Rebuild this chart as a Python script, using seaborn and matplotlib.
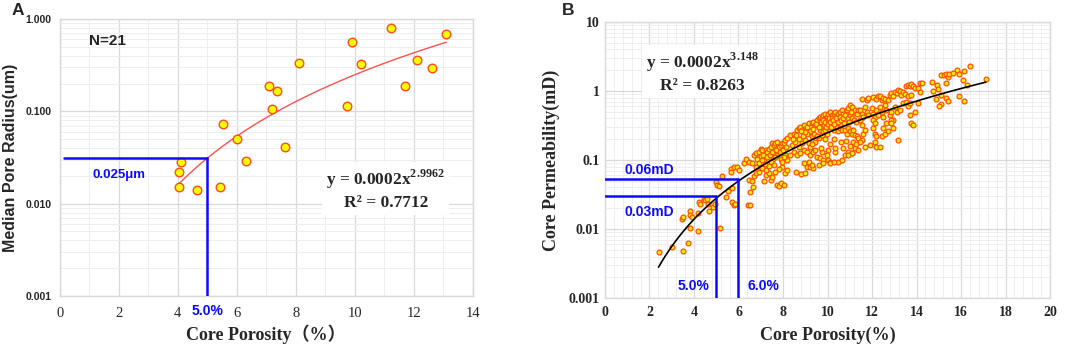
import numpy as np
import pandas as pd
import matplotlib
matplotlib.use("Agg")
import matplotlib.pyplot as plt
import matplotlib.ticker as mticker
import seaborn as sns

# ---------------- panel A: median pore radius vs core porosity (N=21)
a_porosity = [4.05, 4.10, 4.05, 4.67, 5.43, 5.52, 6.00, 6.32, 7.11, 7.36, 7.21,
              7.63, 8.10, 9.73, 9.92, 10.20, 11.23, 11.69, 12.10, 12.60, 13.10]
a_radius = [0.0150, 0.0280, 0.0220, 0.0140, 0.0150, 0.073, 0.050, 0.029, 0.187, 0.168, 0.107,
            0.041, 0.336, 0.113, 0.563, 0.327, 0.798, 0.186, 0.356, 0.294, 0.682]
a_cut_porosity = 5.0
a_cut_radius = 0.031

# ---------------- panel B: core permeability vs core porosity, (porosity %, mD)
b_low = [(2.41, 0.0047), (3.03, 0.0055), (3.52, 0.0048), (3.45, 0.014), (3.51, 0.0149),
         (3.74, 0.0063), (3.81, 0.018), (3.84, 0.016), (3.81, 0.0104), (3.90, 0.015),
         (4.18, 0.0094), (4.19, 0.017), (4.22, 0.025), (4.27, 0.023), (4.43, 0.027),
         (4.49, 0.026), (4.60, 0.027), (4.64, 0.023), (4.67, 0.018), (4.84, 0.021),
         (4.96, 0.023), (5.01, 0.048), (5.05, 0.044), (5.11, 0.042), (5.19, 0.0103),
         (5.28, 0.059), (5.45, 0.029), (5.52, 0.036), (5.70, 0.039), (5.72, 0.025),
         (5.81, 0.022), (5.85, 0.023), (6.43, 0.022), (6.54, 0.022), (6.54, 0.034),
         (6.66, 0.040)]
b_6_to_8 = [(5.65, 0.073), (5.65, 0.066), (5.80, 0.080), (5.95, 0.080), (6.03, 0.071),
            (6.25, 0.091), (6.32, 0.102), (6.47, 0.094), (6.62, 0.091), (6.70, 0.118),
            (6.77, 0.125), (6.92, 0.132), (6.99, 0.143), (7.07, 0.140), (7.22, 0.140),
            (7.29, 0.132), (7.37, 0.143), (7.44, 0.156), (7.52, 0.174), (7.59, 0.165),
            (7.66, 0.174), (7.74, 0.185), (7.81, 0.156), (7.89, 0.165), (7.96, 0.179),
            (8.04, 0.174), (8.11, 0.195), (8.18, 0.206),
            (6.47, 0.051), (6.62, 0.049), (6.70, 0.059), (6.77, 0.064), (6.92, 0.068),
            (6.99, 0.080), (7.07, 0.076), (7.14, 0.049), (7.22, 0.061), (7.37, 0.064),
            (7.44, 0.051), (7.52, 0.057), (7.66, 0.068), (7.74, 0.044), (7.81, 0.042),
            (7.89, 0.046), (7.96, 0.080), (8.04, 0.044), (8.11, 0.064), (8.18, 0.071),
            (6.85, 0.105), (7.00, 0.115), (7.10, 0.120), (7.15, 0.100), (7.30, 0.110),
            (7.40, 0.120), (7.50, 0.130), (7.55, 0.105), (7.70, 0.140), (7.75, 0.120),
            (7.85, 0.130), (7.90, 0.105), (8.00, 0.140), (8.10, 0.120), (8.15, 0.155),
            (7.20, 0.088), (7.45, 0.095), (7.60, 0.085), (7.95, 0.095), (8.20, 0.100),
            (6.90, 0.090), (7.05, 0.100), (7.35, 0.082), (7.80, 0.075), (8.05, 0.110),
            (7.25, 0.072), (6.80, 0.078), (7.65, 0.112)]
b_8_to_11 = [(8.33, 0.23), (8.48, 0.24), (8.63, 0.27), (8.71, 0.29), (8.56, 0.21),
             (8.78, 0.30), (8.85, 0.27), (8.93, 0.32), (9.08, 0.30), (9.15, 0.34),
             (9.30, 0.34), (9.37, 0.36), (9.45, 0.32), (9.52, 0.38), (9.60, 0.40),
             (9.67, 0.42), (9.75, 0.40), (9.82, 0.45), (9.90, 0.47), (9.97, 0.42),
             (10.04, 0.47), (10.12, 0.50), (10.19, 0.45), (10.27, 0.47), (10.34, 0.50),
             (10.42, 0.45), (10.49, 0.47), (10.57, 0.50), (10.64, 0.53), (10.71, 0.47),
             (10.86, 0.53), (10.94, 0.56), (11.01, 0.63), (11.09, 0.59), (11.16, 0.50),
             (11.24, 0.53), (11.31, 0.47), (11.38, 0.53),
             (8.41, 0.165), (8.56, 0.185), (8.71, 0.156), (8.85, 0.175), (9.00, 0.195),
             (9.15, 0.175), (9.23, 0.156), (9.30, 0.22), (9.45, 0.185), (9.60, 0.21),
             (9.67, 0.27), (9.75, 0.23), (9.82, 0.26), (9.90, 0.27), (9.97, 0.24),
             (10.04, 0.30), (10.19, 0.34), (10.27, 0.27), (10.42, 0.30), (10.49, 0.26),
             (10.57, 0.29), (10.64, 0.27), (10.79, 0.27), (10.86, 0.24), (10.94, 0.29),
             (11.01, 0.26), (11.09, 0.24), (11.16, 0.27), (11.24, 0.23), (11.31, 0.22),
             (11.38, 0.21),
             (8.48, 0.132), (8.63, 0.118), (8.78, 0.125), (8.93, 0.140), (9.08, 0.132),
             (9.23, 0.118), (9.37, 0.132), (9.52, 0.112), (9.67, 0.106), (9.75, 0.132),
             (9.82, 0.100), (9.97, 0.118), (10.04, 0.100), (10.12, 0.095), (10.34, 0.132),
             (10.49, 0.095), (10.64, 0.100), (10.79, 0.118), (10.94, 0.132), (11.09, 0.125),
             (11.24, 0.148), (11.38, 0.140), (8.93, 0.090), (9.08, 0.078), (9.23, 0.078),
             (9.37, 0.076), (9.15, 0.095), (8.33, 0.118),
             (8.80, 0.062), (9.00, 0.065), (8.60, 0.068), (9.30, 0.085), (9.60, 0.085),
             (9.80, 0.090), (10.10, 0.090), (10.30, 0.092), (10.90, 0.120), (11.10, 0.125),
             (9.50, 0.33), (9.60, 0.30), (9.70, 0.35), (9.80, 0.38), (9.85, 0.32),
             (9.90, 0.36), (9.95, 0.30), (10.00, 0.38), (10.00, 0.33), (10.05, 0.41),
             (10.10, 0.36), (10.15, 0.30), (10.20, 0.40), (10.25, 0.38), (10.30, 0.33),
             (10.40, 0.40), (10.45, 0.36), (10.55, 0.42), (10.60, 0.38), (10.70, 0.40),
             (10.75, 0.34), (10.80, 0.45), (10.90, 0.40), (10.95, 0.36), (11.00, 0.45),
             (11.05, 0.50), (11.10, 0.40), (11.20, 0.38), (11.30, 0.36), (9.20, 0.26),
             (9.35, 0.28), (9.40, 0.24), (9.55, 0.22), (9.10, 0.24), (8.90, 0.22),
             (8.70, 0.20), (9.00, 0.25), (8.45, 0.20), (8.60, 0.23), (8.80, 0.26),
             (9.90, 0.20), (10.10, 0.17), (10.30, 0.20), (10.60, 0.18), (10.35, 0.15),
             (10.85, 0.19), (11.15, 0.18), (9.70, 0.15), (9.30, 0.17), (9.45, 0.14),
             (10.00, 0.14), (10.70, 0.15), (11.00, 0.16), (11.30, 0.17)]
b_11_to_14 = [(11.53, 0.76), (11.76, 0.74), (11.83, 0.78), (12.05, 0.81), (12.20, 0.76),
              (12.28, 0.85), (12.35, 0.83), (12.43, 0.74), (12.50, 0.78), (12.58, 0.76),
              (12.72, 0.74), (12.80, 0.87), (12.87, 0.92), (12.95, 0.85), (13.02, 0.98),
              (13.10, 0.92), (13.17, 1.03), (13.24, 1.01), (13.32, 0.87), (13.39, 0.98),
              (13.47, 0.91), (13.54, 1.16), (13.62, 1.22), (13.69, 1.18), (13.77, 1.26),
              (13.84, 1.16), (13.91, 1.09), (13.62, 0.83), (13.77, 0.87),
              (11.46, 0.53), (11.53, 0.47), (11.61, 0.42), (11.68, 0.59), (11.76, 0.50),
              (11.83, 0.45), (11.98, 0.56), (12.05, 0.47), (12.13, 0.42), (12.20, 0.53),
              (12.28, 0.45), (12.35, 0.59), (12.43, 0.50), (12.50, 0.42), (12.58, 0.63),
              (12.65, 0.53), (12.80, 0.45), (12.87, 0.50), (12.95, 0.38), (13.02, 0.59),
              (13.10, 0.49), (13.24, 0.53), (13.39, 0.66), (13.54, 0.70), (13.62, 0.61),
              (13.69, 0.66), (13.91, 0.50),
              (11.46, 0.38), (11.53, 0.32), (11.61, 0.24), (11.68, 0.27), (11.53, 0.195),
              (11.46, 0.185), (11.68, 0.156), (11.90, 0.165), (12.05, 0.38), (12.13, 0.34),
              (12.05, 0.29), (12.13, 0.24), (12.20, 0.22), (12.13, 0.185), (12.20, 0.156),
              (12.35, 0.156), (12.43, 0.22), (12.50, 0.29), (12.58, 0.24), (12.65, 0.34),
              (12.72, 0.26), (12.87, 0.38), (12.87, 0.34), (12.95, 0.29), (13.17, 0.195),
              (13.69, 0.45), (13.77, 0.34), (13.84, 0.32)]
b_high = [(14.14, 1.29), (14.24, 1.29), (14.06, 1.09), (14.14, 0.95), (14.06, 0.66),
          (14.69, 1.34), (14.73, 1.01), (14.93, 1.22), (14.96, 1.06), (14.88, 0.76),
          (15.10, 1.71), (15.22, 1.71), (15.33, 1.76), (15.40, 1.61), (15.48, 1.76),
          (15.63, 1.80), (15.33, 1.29), (15.10, 0.87), (15.10, 0.65), (15.33, 0.78),
          (15.43, 0.72), (15.82, 2.01), (15.89, 1.76), (16.15, 1.97), (16.10, 1.44),
          (16.41, 2.33), (16.26, 1.22), (15.92, 0.85), (16.12, 0.72), (15.00, 0.60),
          (17.11, 1.49)]
b_points = b_low + b_6_to_8 + b_8_to_11 + b_11_to_14 + b_high
b_porosity = [p for p, k in b_points]
b_permeability = [k for p, k in b_points]
b_cuts = [(5.0, 0.030), (6.0, 0.053)]

# ---------------- style
sns.set_theme(style="white")
SERIF = ["Liberation Serif", "Noto Sans CJK SC"]
SANS = ["Liberation Sans", "DejaVu Sans"]
plt.rcParams["font.family"] = SANS
plt.rcParams["mathtext.fontset"] = "custom"
plt.rcParams["mathtext.rm"] = "Liberation Serif"
plt.rcParams["mathtext.bf"] = "Liberation Serif:bold"
BLUE = "#0a0aff"
GRID = "#d9d9d9"
GRID_MINOR = "#eeeeee"


def power_fit(x, y):
    # power-law trend line, fitted in log-log space like a spreadsheet trendline
    slope, icpt = np.polyfit(np.log(x), np.log(y), 1)
    xs = np.linspace(min(x), max(x), 200)
    return pd.DataFrame({"x": xs, "y": np.exp(icpt) * xs ** slope})


def style_axes(ax, xmax, xmajor, xminor):
    ax.set_yscale("log")
    ax.set_xlim(0, xmax)
    ax.xaxis.set_major_locator(mticker.MultipleLocator(xmajor))
    ax.xaxis.set_minor_locator(mticker.MultipleLocator(xminor))
    ax.yaxis.set_minor_locator(mticker.LogLocator(base=10, subs=np.arange(2, 10)))
    ax.yaxis.set_minor_formatter(mticker.NullFormatter())
    ax.grid(True, which="major", color=GRID, lw=0.9)
    ax.grid(True, which="minor", color=GRID_MINOR, lw=0.7)
    ax.set_axisbelow(True)
    for s in ax.spines.values():
        s.set_color(GRID)
        s.set_linewidth(1.0)
    ax.tick_params(which="both", length=0)


fig = plt.figure(figsize=(10.65, 3.52), dpi=100)

# ================= panel A
axA = fig.add_axes([0.056, 0.159, 0.388, 0.787])
style_axes(axA, 14, 2, 1)
axA.set_ylim(0.001, 1)
dfA = pd.DataFrame({"porosity": a_porosity, "radius": a_radius})
fitA = power_fit(a_porosity, a_radius)
sns.lineplot(data=fitA, x="x", y="y", ax=axA, color="#ff5050", lw=1.0, zorder=2)
sns.scatterplot(data=dfA, x="porosity", y="radius", ax=axA, s=38, color="#ffff00",
                edgecolor="#ff4a1a", linewidth=1.0, zorder=3)
axA.plot([0.15, a_cut_porosity], [a_cut_radius, a_cut_radius], color=BLUE, lw=1.8, zorder=4)
axA.plot([a_cut_porosity, a_cut_porosity], [0.001, a_cut_radius], color=BLUE, lw=1.8, zorder=4)
axA.yaxis.set_major_formatter(mticker.FuncFormatter(lambda v, p: f"{v:.3f}"))
for lab in axA.get_yticklabels():
    lab.set_fontweight("bold")
    lab.set_fontsize(7.5)
for lab in axA.get_xticklabels():
    lab.set_family(SERIF)
    lab.set_fontsize(10.5)
axA.tick_params(axis="y", pad=6)
axA.tick_params(axis="x", pad=8)
axA.set_xlabel("Core Porosity（%）", family=SERIF, fontweight="bold", fontsize=13, labelpad=3)
axA.set_ylabel("Median Pore Radius(um)", fontweight="bold", fontsize=11.5, labelpad=5)
axA.text(1.0, 0.58, "N=21", fontweight="bold", fontsize=11, va="center")
axA.text(2.0, 0.0205, "0.025μm", color=BLUE, fontweight="bold", fontsize=9.5, ha="center", va="center")
axA.text(a_cut_porosity, -0.055, "5.0%", color=BLUE, fontweight="bold", fontsize=10,
         ha="center", va="center", transform=axA.get_xaxis_transform())
axA.text(11.05, 0.0142, "y = 0.0002x$^{\\mathbf{2.9962}}$\nR² = 0.7712", family=SERIF,
         fontweight="bold", fontsize=12.5, ha="center", va="center", linespacing=1.3,
         bbox=dict(facecolor="white", edgecolor="none", pad=3), zorder=5)
fig.text(0.011, 0.97, "A", fontweight="bold", fontsize=12.5, va="center")

# ================= panel B
axB = fig.add_axes([0.568, 0.153, 0.418, 0.785])
style_axes(axB, 20, 2, 0.4)
axB.set_ylim(0.001, 10)
dfB = pd.DataFrame({"porosity": b_porosity, "perm": b_permeability})
fitB = power_fit(b_porosity, b_permeability)
sns.scatterplot(data=dfB, x="porosity", y="perm", ax=axB, s=12, color="#ffee00",
                edgecolor="#ff5000", linewidth=0.9, zorder=3)
sns.lineplot(data=fitB, x="x", y="y", ax=axB, color="black", lw=1.2, zorder=4)
for xc, yc in b_cuts:
    axB.plot([0, xc], [yc, yc], color=BLUE, lw=1.8, zorder=5)
    axB.plot([xc, xc], [0.001, yc], color=BLUE, lw=1.8, zorder=5)
axB.text(2.0, 0.071, "0.06mD", color=BLUE, fontweight="bold", fontsize=10, ha="center", va="center")
axB.text(2.0, 0.0176, "0.03mD", color=BLUE, fontweight="bold", fontsize=10, ha="center", va="center")
axB.text(4.0, 0.0015, "5.0%", color=BLUE, fontweight="bold", fontsize=10, ha="center", va="center")
axB.text(7.1, 0.0015, "6.0%", color=BLUE, fontweight="bold", fontsize=10, ha="center", va="center")
axB.yaxis.set_major_formatter(mticker.FuncFormatter(lambda v, p: f"{v:g}"))
for lab in axB.get_xticklabels() + axB.get_yticklabels():
    lab.set_family(SERIF)
    lab.set_fontweight("bold")
    lab.set_fontsize(10)
axB.tick_params(axis="y", pad=4)
axB.tick_params(axis="x", pad=6)
axB.set_xlabel("Core Porosity(%)", family=SERIF, fontweight="bold", fontsize=13, labelpad=5)
axB.set_ylabel("Core Permeability(mD)", family=SERIF, fontweight="bold", fontsize=13, labelpad=6)
axB.text(4.4, 1.85, "y = 0.0002x$^{\\mathbf{3.148}}$\nR² = 0.8263", family=SERIF,
         fontweight="bold", fontsize=12.5, ha="center", va="center", linespacing=1.3,
         bbox=dict(facecolor="white", edgecolor="none", pad=3), zorder=6)
fig.text(0.528, 0.97, "B", fontweight="bold", fontsize=12.5, va="center")

fig.savefig("out.png", dpi=100, facecolor="white")
